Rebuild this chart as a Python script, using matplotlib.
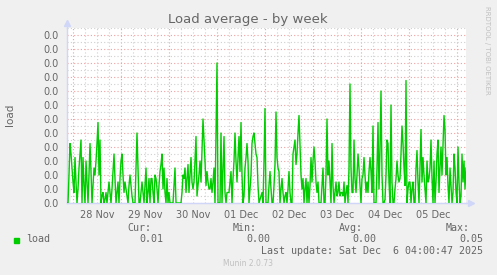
import matplotlib
matplotlib.use("Agg")
import matplotlib.pyplot as plt
import matplotlib.dates as mdates
import numpy as np
import pandas as pd
from matplotlib.ticker import FormatStrFormatter, MultipleLocator, FuncFormatter

# load average, one sample per 30 min, in units of 1e-3
load_milli = [
    0, 0, 8, 17, 14, 10, 6, 3, 13, 6, 0, 4, 10, 14, 18, 0, 13, 5, 0, 12,
    6, 0, 8, 17, 9, 0, 5, 10, 8, 12, 17, 23, 8, 18, 0, 2, 3, 0, 1, 3,
    0, 3, 6, 3, 0, 4, 9, 14, 7, 0, 3, 6, 0, 7, 12, 14, 8, 3, 6, 4,
    2, 0, 5, 8, 5, 2, 0, 0, 0, 10, 20, 10, 0, 0, 3, 6, 3, 0, 5, 10,
    0, 3, 7, 0, 7, 7, 3, 0, 8, 7, 4, 0, 5, 9, 11, 14, 4, 10, 3, 0,
    7, 0, 3, 0, 0, 0, 0, 5, 10, 0, 0, 0, 0, 0, 0, 3, 8, 7, 10, 3,
    7, 11, 3, 8, 13, 6, 4, 6, 12, 19, 2, 5, 8, 12, 6, 15, 24, 18, 12, 5,
    9, 6, 4, 4, 7, 3, 6, 10, 0, 20, 40, 0, 0, 0, 20, 0, 10, 19, 3, 0,
    3, 3, 3, 6, 9, 0, 7, 12, 20, 12, 6, 13, 19, 9, 23, 8, 0, 2, 10, 13,
    17, 12, 0, 4, 8, 17, 19, 20, 17, 14, 13, 5, 0, 1, 2, 3, 0, 12, 27, 0,
    0, 0, 5, 9, 4, 0, 0, 5, 11, 26, 13, 10, 9, 0, 4, 7, 3, 0, 2, 3,
    0, 4, 9, 3, 0, 0, 14, 16, 18, 11, 14, 20, 25, 16, 8, 4, 7, 0, 4, 7,
    0, 6, 0, 5, 13, 6, 12, 16, 12, 6, 3, 6, 0, 0, 0, 5, 10, 0, 0, 8,
    24, 8, 12, 6, 0, 17, 5, 0, 3, 6, 2, 3, 6, 2, 3, 3, 2, 6, 0, 3,
    5, 0, 10, 34, 10, 3, 3, 18, 7, 3, 8, 14, 10, 5, 0, 7, 8, 13, 8, 3,
    6, 3, 9, 13, 9, 3, 22, 0, 0, 0, 10, 23, 4, 15, 32, 8, 0, 0, 1, 8,
    18, 17, 6, 0, 28, 6, 0, 0, 4, 7, 12, 8, 6, 7, 14, 22, 17, 10, 5, 35,
    0, 4, 6, 6, 0, 4, 6, 0, 0, 10, 15, 6, 0, 10, 21, 6, 13, 8, 4, 0,
    12, 6, 7, 10, 18, 7, 0, 12, 0, 6, 14, 18, 3, 10, 16, 8, 17, 25, 21, 8,
    13, 5, 0, 10, 5, 0, 3, 14, 10, 3, 0, 16, 6, 0, 2, 14, 6, 12, 4, 10,
]
start = pd.Timestamp("2025-11-27 21:00")
end = pd.Timestamp("2025-12-06 04:30")

legend_heads = ["Cur:", "Min:", "Avg:", "Max:"]
legend_vals = ["0.01", "0.00", "0.00", "0.05"]

load = np.array(load_milli) / 1000.0
times = pd.date_range(start, periods=len(load), freq="30min")

BACK = "#F0F0F0"
FONT = "#666666"
AXIS = "#CFD6F8"
GREEN = "#00CC00"

fig = plt.figure(figsize=(4.97, 2.75), dpi=100, facecolor=BACK)
ax = fig.add_axes([67 / 497, 1 - 203 / 275, 399 / 497, 175 / 275])
ax.set_facecolor("white")

ax.plot(times, load, color=GREEN, lw=1.0, zorder=3)

ax.set_xlim(start, end)
ax.set_ylim(0, 0.05)

ax.yaxis.set_major_locator(MultipleLocator(0.004))
ax.yaxis.set_minor_locator(MultipleLocator(0.002))
ax.yaxis.set_major_formatter(FormatStrFormatter("%.1f"))

ax.xaxis.set_major_locator(mdates.DayLocator())
ax.xaxis.set_major_formatter(FuncFormatter(lambda v, p: ""))
ax.xaxis.set_minor_locator(mdates.HourLocator(byhour=[0, 6, 12, 18]))


def noon_label(v, pos):
    d = mdates.num2date(v)
    return d.strftime("%d %b") if d.hour == 12 else ""


ax.xaxis.set_minor_formatter(FuncFormatter(noon_label))

ax.grid(which="major", color="#F0A0A0", ls=(0, (1, 2)), lw=0.8, zorder=1)
ax.grid(which="minor", color="#D0D0D0", ls=(0, (1, 2)), lw=0.8, zorder=0)

ax.tick_params(which="both", length=0, colors=FONT, labelsize=7)
ax.tick_params(axis="y", pad=6)
ax.tick_params(axis="x", which="minor", pad=5)

for s in ["top", "right"]:
    ax.spines[s].set_visible(False)
for s in ["left", "bottom"]:
    ax.spines[s].set_color(AXIS)
    ax.spines[s].set_linewidth(1.0)

# axis arrows
ax.plot([0, 0], [1, 1.025], color=AXIS, lw=1, transform=ax.transAxes, clip_on=False)
ax.plot([0], [1.03], marker="^", ms=4, color=AXIS, transform=ax.transAxes, clip_on=False)
ax.plot([1, 1.01], [0, 0], color=AXIS, lw=1, transform=ax.transAxes, clip_on=False)
ax.plot([1.013], [0], marker=">", ms=4, color=AXIS, transform=ax.transAxes, clip_on=False)

fig.text(248 / 497, 1 - 19 / 275, "Load average - by week", ha="center", va="center",
         color=FONT, fontsize=9.5)
fig.text(10 / 497, 1 - 115 / 275, "load", rotation=90, ha="center", va="center",
         color=FONT, fontsize=7.5)
fig.text(487 / 497, 1 - 6 / 275, "RRDTOOL / TOBI OETIKER", rotation=270, ha="center",
         va="top", color="#C0C0C0", fontsize=5)

mono = dict(family="DejaVu Sans Mono", fontsize=7.2, color=FONT, va="center")
head_right = [151, 257, 363, 470]
val_right = [163, 270, 376, 483]
for h, v, hx, vx in zip(legend_heads, legend_vals, head_right, val_right):
    fig.text(hx / 497, 1 - 228 / 275, h, ha="right", **mono)
    fig.text(vx / 497, 1 - 239.5 / 275, v, ha="right", **mono)
fig.patches.append(plt.Rectangle((14 / 497, 1 - 242.5 / 275), 5 / 497, 5 / 275,
                                 transform=fig.transFigure, color=GREEN))
fig.text(26 / 497, 1 - 239.5 / 275, "load", ha="left", **mono)
fig.text(483 / 497, 1 - 251 / 275, "Last update: Sat Dec  6 04:00:47 2025", ha="right", **mono)
fig.text(248 / 497, 1 - 264 / 275, "Munin 2.0.73", ha="center", va="center",
         color="#C0C0C0", fontsize=5.5)

fig.savefig("out.png", dpi=100, facecolor=BACK)
